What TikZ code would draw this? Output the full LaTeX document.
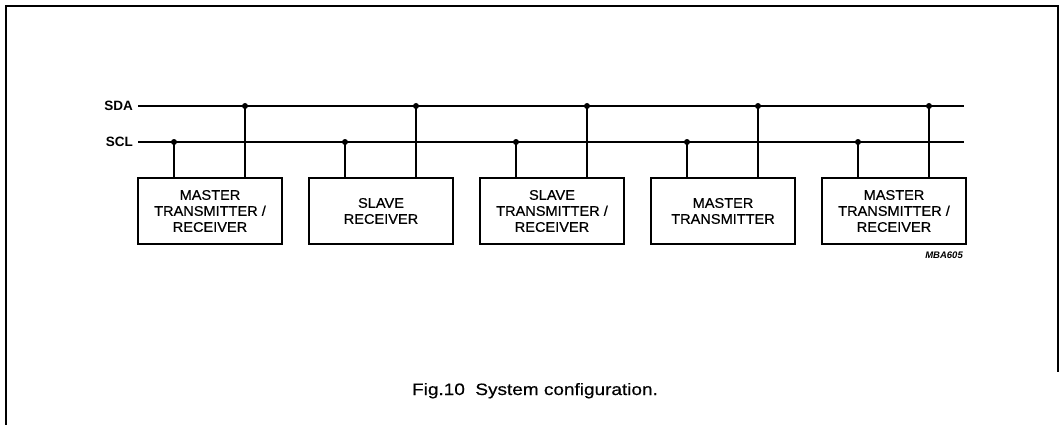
\documentclass[tikz,border=0pt]{standalone}
\usepackage{fontspec}
\setmainfont{Liberation Sans}
\newfontfamily\boxfont[FakeStretch=1.04,FakeBold=0.5]{Liberation Sans}
\newfontfamily\capfont[FakeStretch=1.15,FakeBold=0.4]{Liberation Sans}
\usetikzlibrary{positioning}

\begin{document}
\begin{tikzpicture}[x=1pt, y=-1pt,
  unit/.style={draw, line width=2.6pt, minimum width=144pt, minimum height=66pt,
    inner sep=0pt, align=center, font=\boxfont\fontsize{14}{16}\selectfont},
  bus/.style={line width=2.4pt},
  tap/.style={line width=1.8pt},
  junction/.style={circle, fill, inner sep=0pt, minimum size=6pt},
  buslabel/.style={anchor=east, inner sep=0pt, font=\bfseries\fontsize{13.5}{15}\selectfont}]
  \useasboundingbox (0,0) rectangle (1059,425);

  % frame
  \draw[line width=1.8pt] (6,425) -- (6,6) -- (1058,6) -- (1058,372);

  % bus lines
  \node[buslabel] (sda) at (133,106) {SDA};
  \node[buslabel] (scl) at (133,142) {SCL};
  \coordinate (sdaE) at (964,106);
  \coordinate (sclE) at (964,142);
  \draw[bus] ([xshift=5pt]sda.east) -- (sdaE);
  \draw[bus] ([xshift=5pt]scl.east) -- (sclE);

  % devices
  \foreach \i/\txt in {1/{MASTER\\TRANSMITTER /\\RECEIVER},
                       2/{SLAVE\\RECEIVER},
                       3/{SLAVE\\TRANSMITTER /\\RECEIVER},
                       4/{MASTER\\TRANSMITTER},
                       5/{MASTER\\TRANSMITTER /\\RECEIVER}} {
    \node[unit] (box\i) at ({210+171*(\i-1)},211) {\txt};
    \node[junction] (jcl\i) at ({174+171*(\i-1)},142) {};
    \node[junction] (jda\i) at ({245+171*(\i-1)},106) {};
    \draw[tap] (jcl\i.center) -- (jcl\i.center |- box\i.north);
    \draw[tap] (jda\i.center) -- (jda\i.center |- box\i.north);
  }

  \node[anchor=base east, inner sep=0pt, font=\bfseries\itshape\fontsize{9.5}{10}\selectfont]
    (code) at (963,258) {MBA605};

  % caption
  \node[anchor=base, inner sep=0pt, font=\capfont\fontsize{16.5}{18}\selectfont]
    (caption) at (535,395) {Fig.10\ \ System configuration.};
\end{tikzpicture}
\end{document}
